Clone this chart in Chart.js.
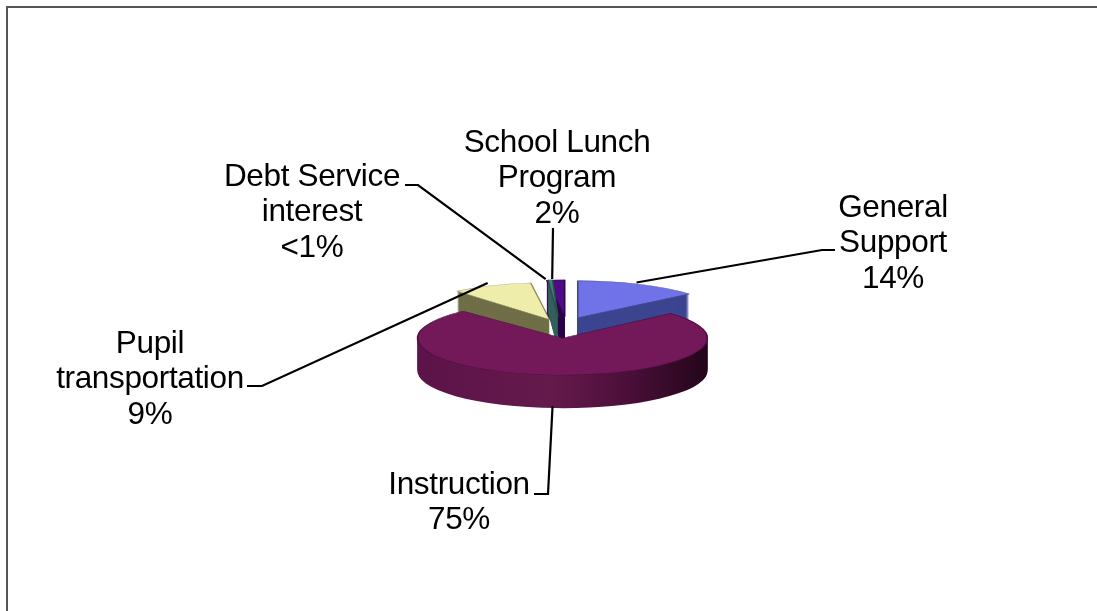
<!DOCTYPE html>
<html>
<head>
<meta charset="utf-8">
<title>Expenditures</title>
<script src="https://cdn.jsdelivr.net/npm/chart.js@4"></script>
<style>
  html, body { margin: 0; padding: 0; background: #fff; }
  canvas { display: block; }
</style>
</head>
<body>
<canvas id="myChart" width="1097" height="611"></canvas>
<script>
// slices run clockwise, Instruction last so it paints over the back slices
let categories = ['Pupil transportation', 'Debt Service interest', 'School Lunch Program', 'General Support', 'Instruction'];
let values = [9, 0.5, 2, 14, 75];
let percentLabels = ['9%', '<1%', '2%', '14%', '75%'];
let topColors = ['#eeeeaa', '#3f7f7c', '#4f0a85', '#7072e8', '#731858'];
let sideColors = ['#6f6e48', '#35605e', '#2a0648', '#3c4590', null];
let edgeColors = ['#8c8c60', '#2a4f4d', '#2e0650', '#40468f', '#4c0f3a'];

let tilt = 0.255;
let depth = 33;
let explode = 36;
let pieRadius = 145;
let paintOrder = [0, 2, 1, 3, 4];

// the view has some perspective, so back slices lean a bit toward the vertical
let sliceTurn = [1.5, 5, 0, 0, -2];
let sliceNudgeX = [0, -4, 3, -1.5, 0];
let sliceNudgeY = [-1, -3, -3, -3, 0];

// wrapped label text, centre x and first line y; elbow is where the leader bends
let callouts = [
	{ lines: ['Pupil', 'transportation'], x: 150, y: 344, stub: [247, 386], elbow: [262, 386], lean: 1.25, front: false },
	{ lines: ['Debt Service', 'interest'], x: 312, y: 177, stub: [405, 185], elbow: [418, 185], lean: 2.5, front: false },
	{ lines: ['School Lunch', 'Program'], x: 557, y: 143, stub: [553, 228], elbow: [553, 228], lean: 0, front: false },
	{ lines: ['General', 'Support'], x: 893, y: 208, stub: [835, 250], elbow: [822, 250], lean: -2.5, front: false },
	{ lines: ['Instruction'], x: 459, y: 485, stub: [534, 494], elbow: [548, 494], lean: -1, front: true }
];

function paintArc(ctx, arc, fill, edge, edgeWidth) {
	let saved = arc.options;
	arc.options = Object.assign(Object.create(saved), {
		backgroundColor: fill,
		borderColor: edge,
		borderWidth: edgeWidth,
		offset: 0
	});
	arc.draw(ctx);
	arc.options = saved;
}

function midAngle(arc) {
	return (arc.startAngle + arc.endAngle) / 2;
}

function rad(deg) {
	return deg * Math.PI / 180;
}

// squashes the flat pie and stacks copies downward for the wall
let tiltedPie = {
	id: 'tiltedPie',
	beforeDatasetDraw(chart, args) {
		let ctx = chart.ctx;
		let arcs = args.meta.data;
		let cy = arcs[0].y;
		let cx = arcs[0].x;

		let wall = ctx.createLinearGradient(cx - pieRadius, 0, cx + pieRadius, 0);
		wall.addColorStop(0, '#5c1349');
		wall.addColorStop(0.45, '#651a4c');
		wall.addColorStop(0.7, '#4c0f3a');
		wall.addColorStop(1, '#22061a');

		paintOrder.forEach(i => {
			let arc = arcs[i];
			let turn = rad(sliceTurn[i]);
			let a = midAngle(arc) + turn;
			for (let k = depth; k >= 0; k--) {
				ctx.save();
				ctx.translate(sliceNudgeX[i], cy + k + sliceNudgeY[i]);
				ctx.scale(1, tilt);
				ctx.translate(0, -cy);
				ctx.translate(Math.cos(a) * explode, Math.sin(a) * explode);
				ctx.translate(cx, cy);
				ctx.rotate(turn);
				ctx.translate(-cx, -cy);
				if (k > 0) paintArc(ctx, arc, sideColors[i] || wall, 'transparent', 0);
				else paintArc(ctx, arc, topColors[i], edgeColors[i], 1.5);
				ctx.restore();
			}
		});
		return false;
	},
	afterDraw(chart) {
		let ctx = chart.ctx;
		let arcs = chart.getDatasetMeta(0).data;

		ctx.save();
		ctx.strokeStyle = '#555';
		ctx.lineWidth = 2;
		ctx.beginPath();
		ctx.moveTo(7, 611);
		ctx.lineTo(7, 7);
		ctx.lineTo(1097, 7);
		ctx.stroke();

		ctx.strokeStyle = '#000';
		ctx.lineWidth = 2.2;
		ctx.fillStyle = '#000';
		ctx.font = '31.5px "Liberation Sans", Arial, sans-serif';
		ctx.letterSpacing = '-0.35px';
		ctx.textAlign = 'center';
		ctx.textBaseline = 'middle';
		callouts.forEach((c, i) => {
			let arc = arcs[i];
			let a = midAngle(arc) + rad(c.lean);
			let r = pieRadius + explode + 8;
			let endX = arc.x + Math.cos(a) * r;
			let endY = arc.y + Math.sin(a) * r * tilt + (c.front ? depth - 4 : -2);
			ctx.beginPath();
			ctx.moveTo(c.stub[0], c.stub[1]);
			ctx.lineTo(c.elbow[0], c.elbow[1]);
			ctx.lineTo(endX, endY);
			ctx.stroke();
			c.lines.concat(percentLabels[i]).forEach((line, n) => {
				ctx.fillText(line, c.x, c.y + n * 35.6);
			});
		});
		ctx.restore();
	}
};

let myChart = document.getElementById('myChart').getContext('2d');

let chart = new Chart(myChart, {
	type: 'pie',
	data: {
		labels: categories,
		datasets: [{
			data: values,
			backgroundColor: topColors,
			radius: pieRadius,
			clip: false
		}]
	},
	options: {
		responsive: false,
		animation: false,
		rotation: -41.2,
		layout: { padding: { left: 31, top: 47 } },
		plugins: {
			legend: { display: false },
			tooltip: { enabled: false }
		}
	},
	plugins: [tiltedPie]
});
</script>
</body>
</html>
